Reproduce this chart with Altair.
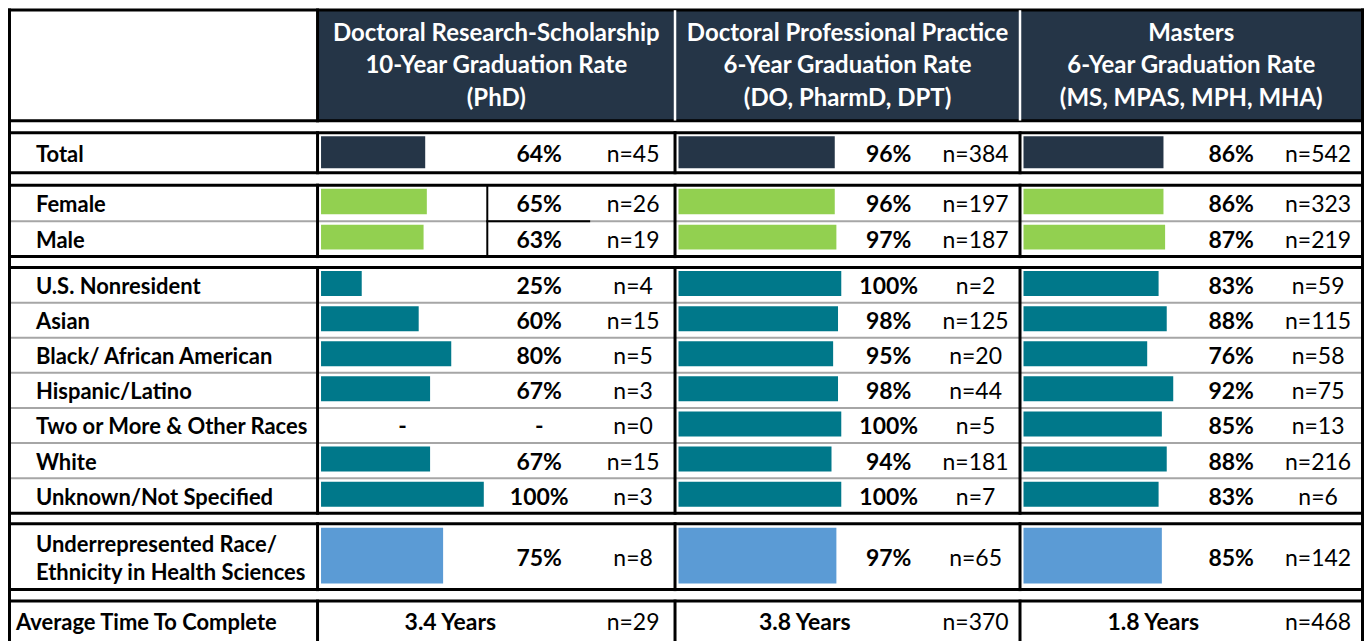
import altair as alt
import pandas as pd

# ---------------- data ----------------
programs = ["Doctoral Research-Scholarship", "Doctoral Professional Practice", "Masters"]
rate_spans = ["10-Year Graduation Rate", "6-Year Graduation Rate", "6-Year Graduation Rate"]
degrees = ["(PhD)", "(DO, PharmD, DPT)", "(MS, MPAS, MPH, MHA)"]

groups = ["Total", "Female", "Male", "U.S. Nonresident", "Asian", "Black/ African American",
          "Hispanic/Latino", "Two or More & Other Races", "White", "Unknown/Not Specified",
          "Underrepresented Race/\nEthnicity in Health Sciences"]
sections = ["total", "gender", "gender", "race", "race", "race", "race", "race", "race", "race", "urm"]

phd_rate = [64, 65, 63, 25, 60, 80, 67, None, 67, 100, 75]
phd_n = [45, 26, 19, 4, 15, 5, 3, 0, 15, 3, 8]
prof_rate = [96, 96, 97, 100, 98, 95, 98, 100, 94, 100, 97]
prof_n = [384, 197, 187, 2, 125, 20, 44, 5, 181, 7, 65]
ms_rate = [86, 86, 87, 83, 88, 76, 92, 85, 88, 83, 85]
ms_n = [542, 323, 219, 59, 115, 58, 75, 13, 216, 6, 142]

avg_label = "Average Time To Complete"
avg_years = [3.4, 3.8, 1.8]
avg_n = [29, 370, 468]

# ---------------- layout (page pixels) ----------------
W, H = 1358, 633
LEFT, RIGHT, TOP = 9.5, 1364.5, 9.5
COL_L = [318, 676, 1021.5]
COL_R = [676, 1021.5, 1364.5]
BAR_PER_PCT = 1.63
PCT_X = [540, 890, 1233]
N_X = [634, 977, 1320]
YEARS_X = [451, 806, 1155]
LABEL_X, AVG_LABEL_X = 36, 16
HEADER_BOTTOM = 120.5
HEADER_LINE_H = 32.5
LABEL_LINE_H = 28

race_top, race_bottom = 267.5, 513.5
pitch = (race_bottom - race_top) / 7
row_bounds = [(132.5, 172.5), (185, 221), (221, 256.5)]
row_bounds += [(race_top + i * pitch, race_top + (i + 1) * pitch) for i in range(7)]
row_bounds += [(524, 590)]
avg_bounds = (601.5, 650)
section_bounds = [(132.5, 172.5), (185, 256.5), (race_top, race_bottom), (524, 590), avg_bounds]
insets = {"total": (3.5, 4.5), "gender": (3.5, 7), "race": (3.5, 6.6), "urm": (4, 6)}

DARK = "#253547"
COLORS = {"total": DARK, "gender": "#92D050", "race": "#00788A", "urm": "#5B9BD5"}
FONT = "Lato"

rates = [phd_rate, prof_rate, ms_rate]
ns = [phd_n, prof_n, ms_n]

X = alt.Scale(domain=[8, 8 + W], nice=False, zero=False)
Y = alt.Scale(domain=[8, 8 + H], nice=False, zero=False, reverse=True)

# ---------------- build tables ----------------
bars, pct_txt, n_txt, lab_txt = [], [], [], []
for i, g in enumerate(groups):
    top, bot = row_bounds[i]
    sec = sections[i]
    cy = (top + bot) / 2
    nlines = g.count("\n") + 1
    lab_txt.append({"x": LABEL_X, "y": cy - (nlines - 1) * LABEL_LINE_H / 2, "t": g})
    for c in range(3):
        r = rates[c][i]
        x0 = COL_L[c] + 3.5
        if r is not None:
            bars.append({"x": x0, "x2": x0 + r * BAR_PER_PCT,
                         "y": top + insets[sec][0], "y2": bot - insets[sec][1], "sec": sec})
            pct_txt.append({"x": PCT_X[c], "y": cy, "t": f"{r}%"})
        else:
            pct_txt.append({"x": x0 + 50 * BAR_PER_PCT, "y": cy, "t": "-"})
            pct_txt.append({"x": PCT_X[c], "y": cy, "t": "-"})
        n_txt.append({"x": N_X[c], "y": cy, "t": f"n={ns[c][i]}"})

avg_cy = 621
avg_bold = [{"x": YEARS_X[c], "y": avg_cy, "t": f"{avg_years[c]} Years"} for c in range(3)]
for c in range(3):
    n_txt.append({"x": N_X[c], "y": avg_cy, "t": f"n={avg_n[c]}"})
avg_lab = [{"x": AVG_LABEL_X, "y": avg_cy, "t": avg_label}]

header_cy = (TOP + HEADER_BOTTOM) / 2
header_txt = [{"x": (COL_L[c] + COL_R[c]) / 2, "y": header_cy - HEADER_LINE_H,
               "t": f"{programs[c]}\n{rate_spans[c]}\n{degrees[c]}"} for c in range(3)]
header_rect = [{"x": COL_L[0], "x2": RIGHT, "y": TOP, "y2": HEADER_BOTTOM}]

lines = []
def hline(y, x1, x2, w=3, col="#000000"):
    lines.append({"x": x1, "x2": x2, "y": y, "y2": y, "w": w, "c": col})
def vline(x, y1, y2, w=3, col="#000000"):
    lines.append({"x": x, "x2": x, "y": y1, "y2": y2, "w": w, "c": col})

GRAY = "#A6A6A6"
# gray row separators
hline(221, LEFT, RIGHT, 2, GRAY)
for k in range(1, 7):
    hline(race_top + k * pitch, LEFT, RIGHT, 2, GRAY)
# black structure
for y in [TOP, HEADER_BOTTOM]:
    hline(y, LEFT, RIGHT)
for (t, b) in section_bounds:
    hline(t, LEFT, RIGHT)
    if b < 640:
        hline(b, LEFT, RIGHT)
    for x in COL_L:
        vline(x, t, b)
vline(LEFT, TOP, 650)
vline(RIGHT, TOP, 650)
vline(COL_L[0], TOP, HEADER_BOTTOM)
# inner box in the PhD gender cell
vline(488, 185, 256.5, 2)
hline(221, 488, 590, 2)
# white separators in header
for x in COL_L[1:]:
    vline(x, TOP + 1.5, HEADER_BOTTOM - 1.5, 2.5, "#FFFFFF")

# ---------------- chart ----------------
def enc_rect():
    return dict(x=alt.X("x:Q", scale=X, axis=None), x2="x2:Q",
                y=alt.Y("y:Q", scale=Y, axis=None), y2="y2:Q")

def enc_text():
    return dict(x=alt.X("x:Q", scale=X, axis=None), y=alt.Y("y:Q", scale=Y, axis=None), text="t:N")

hdr = alt.Chart(pd.DataFrame(header_rect)).mark_rect(color=DARK).encode(**enc_rect())
bar_layer = alt.Chart(pd.DataFrame(bars)).mark_rect().encode(
    **enc_rect(),
    color=alt.Color("sec:N", scale=alt.Scale(domain=list(COLORS.keys()), range=list(COLORS.values())), legend=None),
)
rule_layer = alt.Chart(pd.DataFrame(lines)).mark_rule(strokeCap="square").encode(
    **enc_rect(),
    strokeWidth=alt.StrokeWidth("w:Q", scale=None),
    color=alt.Color("c:N", scale=None),
)
hdr_text = alt.Chart(pd.DataFrame(header_txt)).mark_text(
    font=FONT, fontSize=24, fontWeight="bold", color="#FFFFFF", align="center",
    baseline="middle", lineBreak="\n", lineHeight=HEADER_LINE_H, dy=1).encode(**enc_text())
label_text = alt.Chart(pd.DataFrame(lab_txt + avg_lab)).mark_text(
    font=FONT, fontSize=22, fontWeight="bold", color="#000000", align="left",
    baseline="middle", lineBreak="\n", lineHeight=LABEL_LINE_H, dy=2).encode(**enc_text())
pct_text = alt.Chart(pd.DataFrame(pct_txt + avg_bold)).mark_text(
    font=FONT, fontSize=23, fontWeight="bold", color="#000000", align="center",
    baseline="middle", dy=2).encode(**enc_text())
n_text = alt.Chart(pd.DataFrame(n_txt)).mark_text(
    font=FONT, fontSize=23, color="#000000", align="center",
    baseline="middle", dy=2).encode(**enc_text())

chart = alt.layer(hdr, bar_layer, rule_layer, hdr_text, label_text, pct_text, n_text).properties(
    width=W, height=H, padding=0, autosize=alt.AutoSizeParams(type="none"),
    background="#FFFFFF",
).configure_view(stroke=None)

chart.save("out.html", embed_options={"renderer": "svg", "actions": False})
